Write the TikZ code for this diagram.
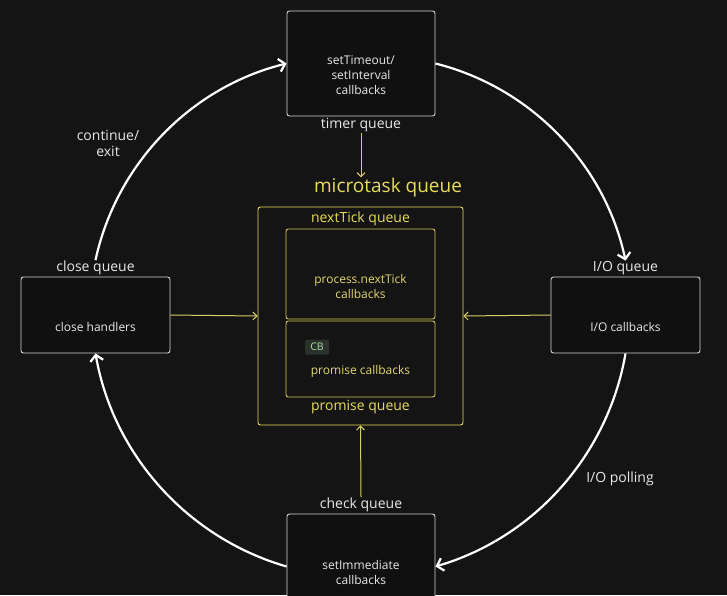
\documentclass[tikz,border=0pt]{standalone}
\usepackage{fontspec}
\setmainfont{Open Sans}
\usetikzlibrary{positioning,arrows.meta}
\definecolor{fondo}{HTML}{141414}
\definecolor{cajafondo}{HTML}{101011}
\definecolor{borde}{HTML}{D6D6D6}
\definecolor{blanco}{HTML}{E8E8E8}
\definecolor{amarillo}{HTML}{E8DC5A}
\definecolor{amtexto}{HTML}{E2D66C}
\definecolor{amflecha}{HTML}{D8CE66}
\definecolor{cbfondo}{HTML}{2A322B}
\definecolor{cbtexto}{HTML}{A4E0A0}

\begin{document}
\begin{tikzpicture}[x=1pt,y=-1pt,
      caja/.style={draw=borde,fill=cajafondo,rounded corners=2.5pt,line width=0.9pt,inner sep=0pt},
      cajaam/.style={draw=amarillo,rounded corners=2.5pt,line width=0.9pt,inner sep=0pt},
      txt/.style={text=blanco,font=\fontsize{12}{15}\selectfont,align=center,inner sep=1pt},
      txtam/.style={txt,text=amtexto},
      etiq/.style={text=blanco,font=\fontsize{14}{16}\selectfont,align=center,inner sep=1pt},
      etiqam/.style={etiq,text=amarillo},
      ciclo/.style={-{Straight Barb[length=6pt,width=13pt]},white,line width=2.2pt,bend left=32,looseness=0.92},
      flechaam/.style={-{Straight Barb[length=4pt,width=8pt]},amflecha,line width=1pt}]
    \fill[fondo] (0,0) rectangle (727,595);
    \useasboundingbox (0,0) rectangle (727,595);
    \clip (0,0) rectangle (727,595);
    % fases del bucle
    \node[caja,minimum width=148pt,minimum height=105pt] (timer) at (361,63.5) {};
    \node[caja,minimum width=149pt,minimum height=76pt] (io) at (625.5,315) {};
    \node[caja,minimum width=149pt,minimum height=76pt] (close) at (95.5,315) {};
    \node[caja,minimum width=148pt,minimum height=105pt] (check) at (361,566.5) {};
    \node[txt] (timertxt) at (361,75) {setTimeout/\\setInterval\\callbacks};
    \node[txt] (iotxt) at (625.5,327) {I/O callbacks};
    \node[txt] (closetxt) at (95.5,327) {close handlers};
    \node[txt] (checktxt) at (361,572) {setImmediate\\callbacks};
    \node[etiq,below=1pt of timer] (timerq) {timer queue};
    \node[etiq,above=0pt of io] (ioq) {I/O queue};
    \node[etiq,above=0pt of close] (closeq) {close queue};
    \node[etiq,above=0pt of check] (checkq) {check queue};
    \node[etiq] (cont) at (108,143) {continue/\\exit};
    \node[etiq] (poll) at (620,479) {I/O polling};
    % microtareas
    \node[cajaam,minimum width=205pt,minimum height=218pt] (mt) at (360.5,316) {};
    \node[cajaam,draw=amarillo!90!black,minimum width=149pt,minimum height=90pt] (nt) at (360.5,274) {};
    \node[cajaam,draw=amarillo!90!black,minimum width=149pt,minimum height=76pt] (pr) at (360.5,359) {};
    \node[etiqam,font=\fontsize{19}{21}\selectfont] (mtq) at (388,188) {microtask queue};
    \node[etiqam] (ntq) at (360.5,219) {nextTick queue};
    \node[etiqam] (prq) at (360.5,407) {promise queue};
    \node[txtam] (nttxt) at (360.5,286.5) {process.nextTick\\callbacks};
    \node[txtam] (prtxt) at (360.5,371) {promise callbacks};
    \node[fill=cbfondo,text=cbtexto,rounded corners=1.5pt,font=\fontsize{10.5}{12}\selectfont,
          minimum width=24pt,minimum height=15pt,inner sep=1pt] (cb) at (317,347) {CB};
    % ciclo
    \draw[ciclo] (closeq.north) to (timer.west);
    \draw[ciclo] (timer.east) to (ioq.north);
    \draw[ciclo] (io.south) to (check.east);
    \draw[ciclo] (check.west) to (close.south);
    % hacia la cola de microtareas
    \draw[flechaam] (timerq.south) -- (timerq.south |- mtq.north);
    \draw[flechaam] (close.east) -- (mt.west);
    \draw[flechaam] (io.west) -- (mt.east);
    \draw[flechaam] (checkq.north) -- (mt.south);
\end{tikzpicture}
\end{document}
